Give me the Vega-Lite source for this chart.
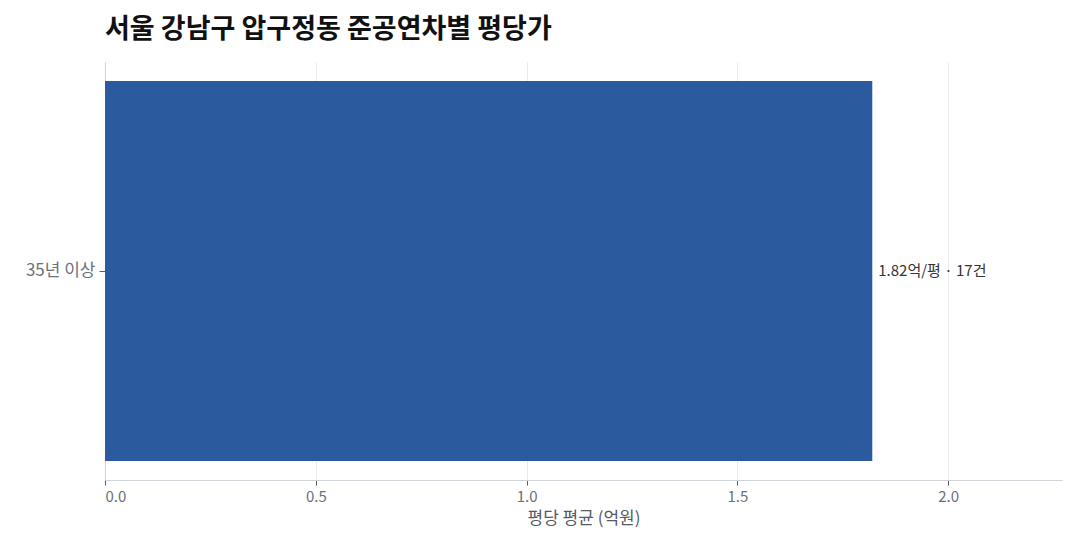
{
  "$schema": "https://vega.github.io/schema/vega-lite/v6.json",
  "autosize": {"type": "none"},
  "padding": {"left": 105, "top": 62, "right": 18, "bottom": 72},
  "width": 957,
  "height": 418,
  "background": "white",
  "title": {
    "text": "서울 강남구 압구정동 준공연차별 평당가",
    "anchor": "start",
    "frame": "group",
    "font": "Noto Sans CJK KR",
    "fontSize": 27,
    "fontWeight": "bold",
    "color": "#111111",
    "offset": 18
  },
  "data": {
    "values": [
      {"age": "35년 이상", "price": 1.82, "count": 17, "label": "1.82억/평 · 17건"}
    ]
  },
  "config": {
    "font": "Noto Sans CJK KR",
    "view": {"stroke": null},
    "axis": {
      "labelFont": "Noto Sans CJK KR",
      "titleFont": "Noto Sans CJK KR",
      "labelColor": "#6b7079",
      "titleColor": "#555a63",
      "domainColor": "#cfd3da",
      "tickColor": "#555a63",
      "gridColor": "#e8eaee"
    }
  },
  "encoding": {
    "y": {
      "field": "age",
      "type": "nominal",
      "scale": {"paddingInner": 0, "paddingOuter": 0.05},
      "axis": {
        "title": null,
        "labelFontSize": 17,
        "tickSize": 6,
        "labelPadding": 4,
        "grid": false
      }
    },
    "x": {
      "field": "price",
      "type": "quantitative",
      "scale": {"domain": [0, 2.27], "nice": false},
      "axis": {
        "title": "평당 평균 (억원)",
        "titleFontSize": 17,
        "titleFontWeight": "normal",
        "titlePadding": 6,
        "labelFontSize": 15,
        "tickSize": 5,
        "labelPadding": 4,
        "format": ".1f",
        "values": [0, 0.5, 1, 1.5, 2],
        "grid": true
      }
    }
  },
  "layer": [
    {
      "mark": {"type": "bar", "color": "#2c5a9f"}
    },
    {
      "mark": {
        "type": "text",
        "align": "left",
        "baseline": "middle",
        "dx": 6,
        "fontSize": 15,
        "color": "#333333"
      },
      "encoding": {"text": {"field": "label"}}
    }
  ]
}
